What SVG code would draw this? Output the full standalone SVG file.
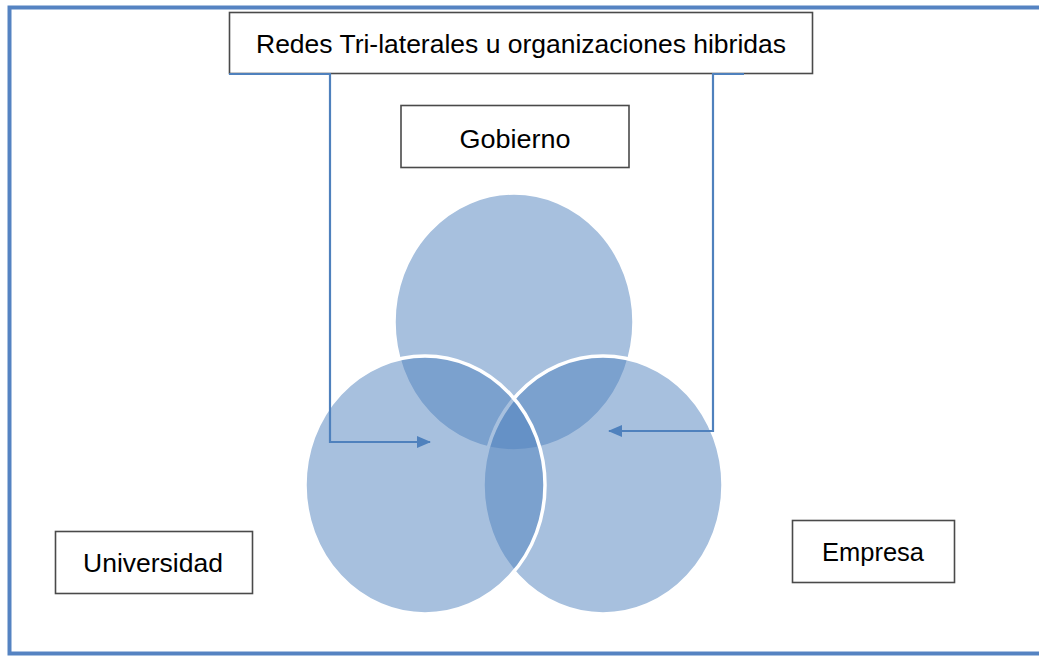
<svg xmlns="http://www.w3.org/2000/svg" width="1039" height="656" viewBox="0 0 1039 656">
<style>
.box{fill:#ffffff;stroke:#4a4a4a;stroke-width:1.6}
.lbl{font-family:"Liberation Sans",Arial,sans-serif;font-size:26px;fill:#000000;text-anchor:middle}
.venn{fill:#4f81bd;fill-opacity:0.5;stroke:#ffffff;stroke-width:3.5}
.conn{fill:none;stroke:#4f81bd;stroke-width:2.2}
</style>
<defs>
<marker id="arr" viewBox="0 0 14 12" refX="13" refY="6" markerWidth="14" markerHeight="12" markerUnits="userSpaceOnUse" orient="auto">
<path d="M0,0 L14,6 L0,12 Z" fill="#4f81bd"/>
</marker>
</defs>
<rect x="0" y="0" width="1039" height="656" fill="#ffffff"/>
<rect id="frame" x="9.5" y="7.5" width="1040" height="646" fill="none" stroke="#5583c2" stroke-width="4"/>
<g id="venn">
<ellipse id="circle-gobierno" class="venn" cx="514" cy="322" rx="120" ry="129"/>
<ellipse id="circle-empresa" class="venn" cx="603" cy="485" rx="120" ry="129"/>
<ellipse id="circle-universidad" class="venn" cx="425" cy="485" rx="120" ry="129"/>
</g>
<g id="title">
<rect class="box" x="229.5" y="12.5" width="583" height="61"/>
<text class="lbl" x="521" y="53" textLength="530" lengthAdjust="spacingAndGlyphs">Redes Tri-laterales u organizaciones hibridas</text>
</g>
<g id="gobierno">
<rect class="box" x="401" y="105.5" width="228" height="62"/>
<text class="lbl" x="515" y="148" textLength="111" lengthAdjust="spacingAndGlyphs">Gobierno</text>
</g>
<g id="universidad">
<rect class="box" x="55.5" y="531.5" width="197" height="62"/>
<text class="lbl" x="153" y="572" textLength="140" lengthAdjust="spacingAndGlyphs">Universidad</text>
</g>
<g id="empresa">
<rect class="box" x="792.5" y="520.5" width="162" height="62"/>
<text class="lbl" x="873" y="561" textLength="102" lengthAdjust="spacingAndGlyphs">Empresa</text>
</g>
<g id="connectors">
<path class="conn" d="M229,74 H330 V442 H430" marker-end="url(#arr)"/>
<path class="conn" d="M744,74 H713 V431 H609" marker-end="url(#arr)"/>
</g>
</svg>
